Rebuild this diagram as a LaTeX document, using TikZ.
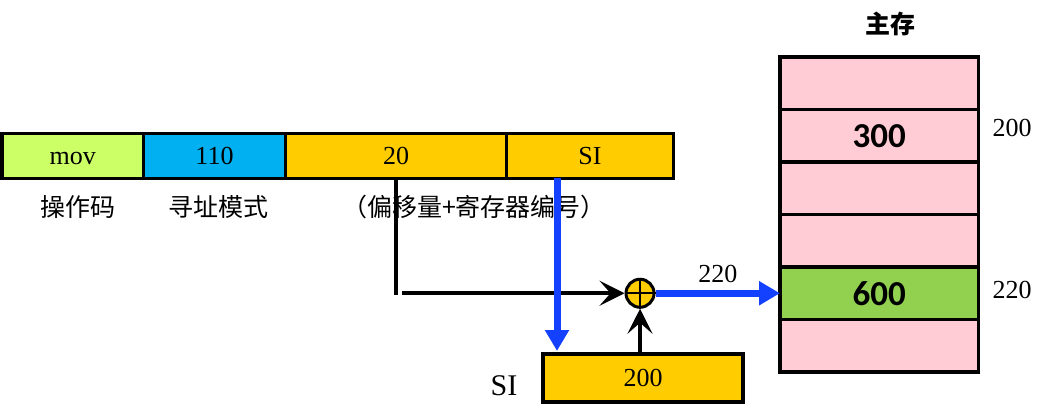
\documentclass[tikz,border=0pt]{standalone}
\usepackage{fontspec}
\setmainfont{Liberation Serif}
\newfontfamily\cjk{Noto Sans CJK SC}
\newfontfamily\numfont{Carlito}
\usetikzlibrary{arrows.meta,calc}
\definecolor{limefield}{RGB}{204,255,102}
\definecolor{cyanfield}{RGB}{0,176,240}
\definecolor{goldfield}{RGB}{255,204,0}
\definecolor{pinkcell}{RGB}{255,204,213}
\definecolor{greencell}{RGB}{146,208,80}
\definecolor{busblue}{RGB}{20,64,255}
\begin{document}
\begin{tikzpicture}[x=1pt,y=-1pt,
  field/.style={draw=black, line width=3.5pt, minimum height=45pt, inner sep=0pt, outer sep=0pt,
    text height=17.5pt, text depth=0pt, font=\fontsize{26}{26}\selectfont},
  cell/.style={draw=black, line width=3.5pt, fill=pinkcell, minimum width=198.5pt, minimum height=52.5pt,
    inner sep=0pt, outer sep=0pt, font=\numfont\bfseries\fontsize{35}{35}\selectfont},
  caption/.style={inner sep=0pt, font=\cjk\fontsize{25}{25}\selectfont},
  tag/.style={inner sep=0pt, font=\fontsize{26}{26}\selectfont},
  bus/.style={draw=busblue, line width=7pt, -{Triangle[width=23pt,length=21pt]}},
  wire/.style={draw=black, line width=4.5pt},
  wirearrow/.style={wire, -{Stealth[width=25pt,length=25pt,inset=11pt]}}]
\useasboundingbox (0,0) rectangle (1043,411);

% instruction word
\node[field, fill=limefield, minimum width=141.5pt] (fop) at (72.75,156) {mov};
\node[field, fill=cyanfield, minimum width=142pt] (fmode) at (214.5,156) {110};
\node[field, fill=goldfield, minimum width=221pt] (foff) at (396,156) {20};
\node[field, fill=goldfield, minimum width=167pt] (freg) at (590,156) {SI};

\node[caption] (lop) at (78,207) {操作码};
\node[caption] (lmode) at (218,207) {寻址模式};
\node[caption] (lfield) at (474,207) {（偏移量+寄存器编号）};

% main memory
\node[inner sep=0pt, font=\cjk\bfseries\fontsize{25}{25}\selectfont] (title) at (890,24) {主存};
\node[cell] (m1) at (879.25,83.25) {};
\node[cell] (m2) at (879.25,135.75) {300};
\node[cell] (m3) at (879.25,188.25) {};
\node[cell] (m4) at (879.25,240.75) {};
\node[cell, fill=greencell] (m5) at (879.25,293.25) {600};
\node[cell] (m6) at (879.25,345.75) {};
\node[tag] (a200) at (1012,128) {200};
\node[tag] (a220) at (1012,290) {220};

% SI register
\node[field, fill=goldfield, minimum width=200pt, minimum height=48pt] (reg) at (643,378) {200};
\node[tag, font=\fontsize{30}{30}\selectfont] (regname) at (504,386) {SI};

% adder
\node[circle, draw=black, line width=3pt, fill=goldfield, minimum size=28pt, inner sep=0pt] (plus) at (640,293.25) {};
\draw[black, line width=2.2pt] (plus.north) -- (plus.south) (plus.west) -- (plus.east);

% displacement path
\coordinate (dtap) at (foff.south);
\coordinate (dcorner) at (dtap |- plus);
\draw[wire] (dtap) -- ($(dcorner)+(0,1.5)$);
\draw[wirearrow] ($(dcorner)+(6,0)$) -- (plus.west);

% register number selects SI
\coordinate (stap) at ($(freg.south west)+(50.5,0)$);
\draw[bus, shorten >=3pt] (stap) -- (stap |- reg.north);

% register value into adder
\draw[wirearrow] (reg.north -| plus) -- (plus.south);

% effective address to memory
\draw[bus] (plus.east) -- (m5.west) node[midway, above=7pt, tag] (ea) {220};
\end{tikzpicture}
\end{document}
